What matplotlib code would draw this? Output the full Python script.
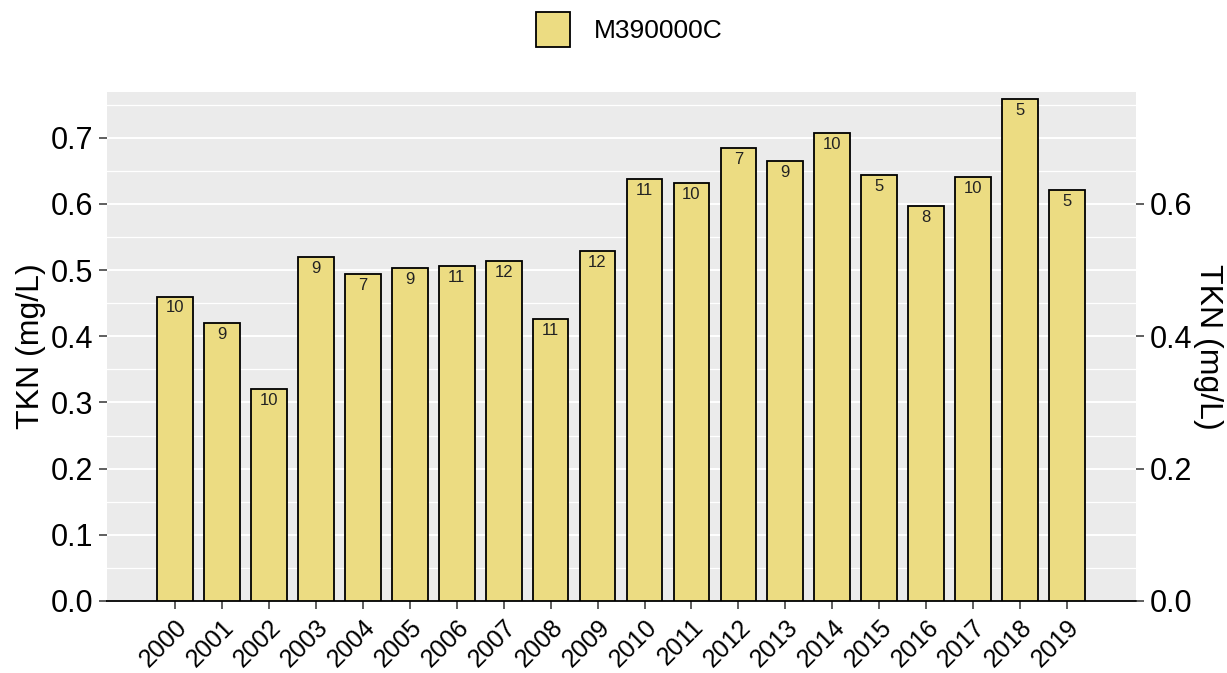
import matplotlib
matplotlib.use("Agg")
import matplotlib.pyplot as plt
from matplotlib.patches import Patch
from matplotlib.ticker import MultipleLocator

years = [str(y) for y in range(2000, 2020)]
tkn = [0.46, 0.42, 0.32, 0.52, 0.494, 0.503, 0.506, 0.514, 0.426, 0.529,
       0.638, 0.632, 0.684, 0.664, 0.707, 0.643, 0.597, 0.641, 0.758, 0.621]
counts = [10, 9, 10, 9, 7, 9, 11, 12, 11, 12,
          11, 10, 7, 9, 10, 5, 8, 10, 5, 5]
station = "M390000C"

plt.rcParams['font.family'] = ['Liberation Sans', 'DejaVu Sans']
bar_color = '#ECDC82'

fig = plt.figure(figsize=(12.27, 6.73), dpi=100)
ax = fig.add_axes([107 / 1227, 1 - 601 / 673, (1136 - 107) / 1227, (601 - 92) / 673])
ax.set_facecolor('#EBEBEB')

x = range(len(years))
ax.bar(x, tkn, width=0.76, color=bar_color, edgecolor='black', linewidth=1.3, zorder=3)
for xi, v, n in zip(x, tkn, counts):
    ax.text(xi, v - 0.006, str(n), ha='center', va='top', fontsize=12, color='#222222', zorder=4)

ax.set_xlim(-1.45, 20.47)
ax.set_ylim(0, 0.769)
ax.yaxis.set_major_locator(MultipleLocator(0.1))
ax.yaxis.set_minor_locator(MultipleLocator(0.05))
ax.grid(which='major', axis='y', color='white', linewidth=1.4, zorder=0)
ax.grid(which='minor', axis='y', color='white', linewidth=0.9, zorder=0)
ax.tick_params(axis='y', which='minor', length=0)
ax.set_axisbelow(True)

ax.set_xticks(list(x))
ax.set_xticklabels(years, rotation=45, ha='right', rotation_mode='anchor', fontsize=18)
ax.set_yticks([i / 10 for i in range(8)])
ax.set_yticklabels([f"{i / 10:.1f}" for i in range(8)], fontsize=22)
ax.tick_params(axis='both', which='major', length=6, width=1.1, color='#333333', pad=4)

for side in ['top', 'left', 'right']:
    ax.spines[side].set_visible(False)
ax.spines['bottom'].set_color('black')
ax.spines['bottom'].set_linewidth(1.3)
ax.set_ylabel("TKN (mg/L)", fontsize=23, labelpad=3)

ax2 = ax.twinx()
ax2.set_ylim(ax.get_ylim())
ax2.set_yticks([0.0, 0.2, 0.4, 0.6])
ax2.set_yticklabels(["0.0", "0.2", "0.4", "0.6"], fontsize=22)
ax2.tick_params(axis='y', length=6, width=1.1, color='#333333', pad=4)
for side in ['top', 'left', 'right', 'bottom']:
    ax2.spines[side].set_visible(False)
ax2.set_ylabel("TKN (mg/L)", fontsize=23, rotation=270, labelpad=22)

handle = Patch(facecolor=bar_color, edgecolor='black', linewidth=1.3, label=station)
fig.legend(handles=[handle], loc='upper center', bbox_to_anchor=(0.513, 1.018), frameon=False,
           fontsize=19, handlelength=1.3, handleheight=1.7, handletextpad=0.9)

fig.savefig("out.png", dpi=100)
